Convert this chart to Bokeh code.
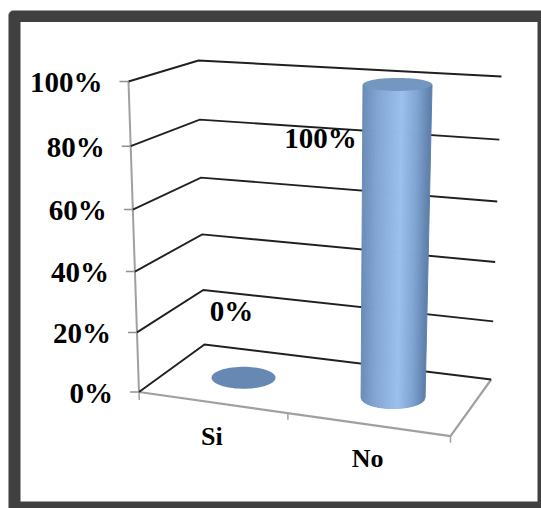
import math
from bokeh.plotting import figure
from bokeh.models import Range1d, BoxAnnotation
from bokeh.core.properties import value
from bokeh.embed import file_html
from bokeh.resources import INLINE

categories = ["Si", "No"]
series_values = [0, 100]
data_labels = ["0%", "100%"]
axis_ticks = [0, 20, 40, 60, 80, 100]
tick_labels = ["0%", "20%", "40%", "60%", "80%", "100%"]

# 3D scene: corners of the box in page pixels (value 0, value 100)
FL = ((138.5, 391.5), (128.0, 81.0))
BL = ((204.0, 344.0), (198.0, 60.0))
BR = ((490.7, 379.0), (501.0, 76.0))
FR = ((450.0, 435.7), (457.5, 101.3))
PERSP = 0.95
FONT = value("Liberation Serif")
FS = "29px"


def rise(pair, v):
    t = v / 100.0
    w = PERSP * t / ((1 - t) + PERSP * t)
    return (pair[0][0] + (pair[1][0] - pair[0][0]) * w,
            pair[0][1] + (pair[1][1] - pair[0][1]) * w)


def lerp(a, b, u):
    return (a[0] + (b[0] - a[0]) * u, a[1] + (b[1] - a[1]) * u)


def scene(u, d, v):
    return lerp(lerp(rise(FL, v), rise(FR, v), u), lerp(rise(BL, v), rise(BR, v), u), d)


def hex_mix(a, b, f):
    ca = [int(a[i:i + 2], 16) for i in (1, 3, 5)]
    cb = [int(b[i:i + 2], 16) for i in (1, 3, 5)]
    return "#%02x%02x%02x" % tuple(round(x + (y - x) * f) for x, y in zip(ca, cb))


SHADE = [(-1.0, "#6a8bb6"), (-0.55, "#83a6d4"), (0.15, "#9cc0ee"), (0.6, "#80a4d1"), (1.0, "#5d7ea8")]


def shade(u):
    for (u0, c0), (u1, c1) in zip(SHADE, SHADE[1:]):
        if u <= u1:
            return hex_mix(c0, c1, (u - u0) / (u1 - u0))
    return SHADE[-1][1]


def ellipse_pts(c, rx, ry, n=72):
    return ([c[0] + rx * math.cos(2 * math.pi * i / n) for i in range(n)],
            [c[1] + ry * math.sin(2 * math.pi * i / n) for i in range(n)])


p = figure(width=541, height=508, x_range=Range1d(0, 541), y_range=Range1d(508, 0),
           output_backend="svg", toolbar_location=None, min_border=0,
           x_axis_type=None, y_axis_type=None, outline_line_color=None,
           background_fill_color="white", border_fill_color="white")
p.grid.visible = False

# frame
p.add_layout(BoxAnnotation(left=8, right=560, top=10, bottom=530, fill_color="#404040", fill_alpha=1,
                           line_color="#9a9a9a", line_alpha=0.5, line_width=1, border_radius=5, level="underlay"))
p.add_layout(BoxAnnotation(left=20, right=537, top=21.5, bottom=501, fill_color="white", fill_alpha=1,
                           line_color=None, level="underlay"))

# floor edges and axis
xs, ys = zip(rise(FL, 0), rise(FL, 100))
p.line(list(xs), list(ys), line_color="#a0a0a0", line_width=2)
a, b, c = scene(0, 0, 0), scene(1, 0, 0), scene(1, 1, 0)
p.line([a[0], b[0], c[0]], [a[1], b[1], c[1]], line_color="#a0a0a0", line_width=2.2)
p.line([a[0], a[0] + 0.3], [a[1], a[1] + 8], line_color="#a0a0a0", line_width=1.5)
for u in (0.478, 1.0):
    q = scene(u, 0, 0)
    p.line([q[0], q[0]], [q[1], q[1] + 6.5], line_color="#a0a0a0", line_width=1.5)

# grid lines, ticks, tick labels
for v, lab in zip(axis_ticks, tick_labels):
    f, bl, br = rise(FL, v), rise(BL, v), rise(BR, v)
    p.line([f[0], bl[0], br[0]], [f[1], bl[1], br[1]], line_color="#202020", line_width=1.9,
           line_join="miter")
    p.line([f[0] - 9, f[0]], [f[1], f[1]], line_color="#909090", line_width=1.5)
    p.text([f[0] - 26], [f[1] + 0.5], text=[lab], text_font=FONT, text_font_style="bold",
           text_font_size=FS, text_align="right", text_baseline="middle", text_color="black")

# cylinders
CYL_U = [0.24, 0.74]
LABEL_OFF = [(-12, -66.5), (-77, 54)]
for u0, val, lab, off, name in zip(CYL_U, series_values, data_labels, LABEL_OFF, categories):
    base = scene(u0, 0.5, 0)
    t = val / 100.0
    rx_b, ry_b = 32.0, 11.0
    top = scene(u0, 0.5, val)
    rx_t, ry_t = rx_b + 2.5 * t, ry_b - 4.5 * t
    if val > 0:
        n = 46
        px, py, pc = [], [], []
        for i in range(n):
            s0, s1 = -1 + 2 * i / n, -1 + 2 * (i + 1) / n
            arc0 = ry_b * math.sqrt(max(0, 1 - s0 * s0))
            arc1 = ry_b * math.sqrt(max(0, 1 - s1 * s1))
            px.append([top[0] + s0 * rx_t, top[0] + s1 * rx_t, base[0] + s1 * rx_b, base[0] + s0 * rx_b])
            py.append([top[1], top[1], base[1] + arc1, base[1] + arc0])
            pc.append(shade((s0 + s1) / 2))
        p.patches(px, py, fill_color=pc, line_color=pc, line_width=1)
    ex, ey = ellipse_pts(top, rx_t, ry_t)
    p.patch(ex, ey, fill_color="#7397c0" if val > 0 else "#6688b2", line_color=None)
    anchor = top if val > 0 else base
    p.text([anchor[0] + off[0]], [anchor[1] + off[1]], text=[lab],
           text_font=FONT, text_font_style="bold", text_font_size=FS, text_align="center",
           text_baseline="middle", text_color="black")

# category labels
for u, name in zip((0.25, 0.75), categories):
    q = scene(u, 0, 0)
    p.text([q[0] - 5], [q[1] + 33.5], text=[name], text_font=FONT, text_font_style="bold",
           text_font_size="26px", text_align="center", text_baseline="middle", text_color="black")

open("out.html", "w").write(file_html(p, INLINE))
